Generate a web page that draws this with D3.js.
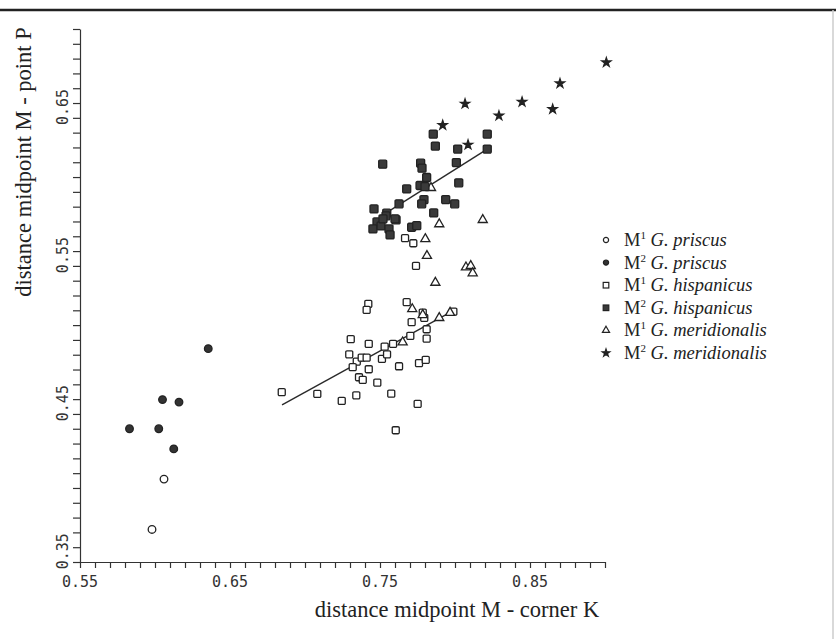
<!DOCTYPE html>
<html>
<head>
<meta charset="utf-8">
<script src="https://cdn.jsdelivr.net/npm/d3@7/dist/d3.min.js"></script>
<style>
    body { margin: 0; background: #fff; }
    .tick-label { font-family: "DejaVu Sans Mono", monospace; font-size: 15px; fill: #333; }
    .axis-title { font-family: "Liberation Serif", serif; font-size: 22.5px; fill: #222; }
    .legend-text { font-family: "Liberation Serif", serif; font-size: 18.5px; fill: #222; }
    .axis path, .axis line { stroke: #333; stroke-width: 1.2; }
</style>
</head>
<body>
<div class="chart"></div>
<script>
// values: [distance M - corner K, distance M - point P]
var priscusM1 = [[0.598, 0.362], [0.606, 0.396]];
var priscusM2 = [[0.583, 0.430], [0.6025, 0.430], [0.605, 0.4497], [0.616, 0.448],
    [0.6125, 0.4164], [0.6355, 0.4841]];
var hispanicusM1 = [[0.6845, 0.4547], [0.7082, 0.4535], [0.7245, 0.4488], [0.7342, 0.4526],
    [0.7305, 0.4905], [0.7295, 0.4803], [0.7345, 0.4753], [0.7318, 0.4716], [0.7378, 0.478],
    [0.7411, 0.478], [0.7425, 0.4873], [0.7422, 0.5143], [0.7411, 0.5103], [0.7425, 0.4702],
    [0.736, 0.4648], [0.7385, 0.463], [0.7482, 0.4611], [0.7513, 0.4772], [0.7531, 0.4855],
    [0.7547, 0.4803], [0.7587, 0.4873], [0.7575, 0.4537], [0.7627, 0.4722], [0.7605, 0.429],
    [0.7678, 0.5155], [0.7711, 0.502], [0.7702, 0.4927], [0.7751, 0.4468], [0.776, 0.4743],
    [0.7805, 0.4765], [0.7811, 0.4972], [0.7811, 0.4909], [0.7785, 0.5084], [0.7795, 0.5049],
    [0.7989, 0.5091], [0.7667, 0.5587], [0.7722, 0.5553], [0.774, 0.540]];
var hispanicusM2 = [[0.7518, 0.6087], [0.7855, 0.629], [0.7869, 0.6209], [0.7771, 0.6094],
    [0.778, 0.606], [0.8018, 0.6189], [0.8215, 0.629], [0.8215, 0.6189], [0.8009, 0.6098],
    [0.7811, 0.5997], [0.7767, 0.5943], [0.780, 0.5936], [0.7678, 0.592], [0.8025, 0.5961],
    [0.7627, 0.5819], [0.7793, 0.5847], [0.7778, 0.5819], [0.7938, 0.5848], [0.7998, 0.5819],
    [0.7858, 0.5758], [0.7545, 0.5756], [0.7607, 0.5711], [0.7711, 0.5661], [0.7745, 0.5672],
    [0.746, 0.5785], [0.748, 0.5697], [0.7453, 0.565], [0.7507, 0.567], [0.754, 0.5738],
    [0.756, 0.565], [0.7567, 0.5609], [0.760, 0.5718], [0.752, 0.5718]];
var meridionalisM1 = [[0.784, 0.5927], [0.7895, 0.5682], [0.8185, 0.5711], [0.7802, 0.5582],
    [0.7813, 0.5468], [0.8073, 0.5391], [0.8105, 0.540], [0.8118, 0.5351], [0.7869, 0.5287],
    [0.7715, 0.5109], [0.7785, 0.5069], [0.7895, 0.5049], [0.7651, 0.4884], [0.7967, 0.5084]];
var meridionalisM2 = [[0.9009, 0.6774], [0.870, 0.6632], [0.8447, 0.6508], [0.8651, 0.6459],
    [0.8293, 0.6414], [0.8067, 0.6495], [0.7918, 0.6351], [0.8087, 0.6218]];

// fitted lines as drawn in the figure (start, end)
var fitHispanicusM1 = [[0.6847, 0.4461], [0.7989, 0.5098]];
var fitHispanicusM2 = [[0.752, 0.5745], [0.8215, 0.6189]];

var xLabels = [0.55, 0.65, 0.75, 0.85];
var yLabels = [0.35, 0.45, 0.55, 0.65];
var legendLabels = [
    ["1", "priscus"], ["2", "priscus"], ["1", "hispanicus"],
    ["2", "hispanicus"], ["1", "meridionalis"], ["2", "meridionalis"]
];

(function() {
    var width = 836, height = 639;
    var svg = d3.select(".chart").append("svg")
        .attr("width", width)
        .attr("height", height);

    var x = d3.scaleLinear().domain([0.55, 0.90]).range([80, 605]);
    var y = d3.scaleLinear().domain([0.34, 0.70]).range([562, 29]);

    // page frame of the scan
    svg.append("line")
        .attr("x1", 0).attr("x2", width)
        .attr("y1", 10).attr("y2", 10)
        .style("stroke", "#222").style("stroke-width", 2.5);
    svg.append("line")
        .attr("x1", 833).attr("x2", 833)
        .attr("y1", 10).attr("y2", height)
        .style("stroke", "#ccc").style("stroke-width", 1.5);

    var xMinor = d3.range(55, 91).map(function(d) { return d / 100; });
    var yMinor = d3.range(34, 71).map(function(d) { return d / 100; });
    var fmt = d3.format(".2f");

    svg.append("g")
        .classed("axis", true)
        .attr("transform", "translate(0," + y(0.34) + ")")
        .call(d3.axisBottom(x).tickValues(xMinor).tickSize(6).tickSizeOuter(0).tickFormat(""));

    svg.append("g")
        .classed("axis", true)
        .attr("transform", "translate(" + x(0.55) + ",0)")
        .call(d3.axisLeft(y).tickValues(yMinor).tickSize(7).tickSizeOuter(0).tickFormat(""));

    svg.selectAll(".x-label")
        .data(xLabels)
        .enter()
        .append("text")
            .classed("tick-label", true)
            .attr("x", function(d) { return x(d); })
            .attr("y", 587)
            .attr("text-anchor", "middle")
            .text(fmt);

    svg.selectAll(".y-label")
        .data(yLabels)
        .enter()
        .append("text")
            .classed("tick-label", true)
            .attr("transform", function(d) { return "translate(68," + (y(d) + 4) + ") rotate(-90)"; })
            .attr("text-anchor", "middle")
            .text(fmt);

    svg.append("text")
        .classed("axis-title", true)
        .attr("x", 457)
        .attr("y", 617)
        .attr("text-anchor", "middle")
        .text("distance midpoint M - corner K");

    svg.append("text")
        .classed("axis-title", true)
        .attr("transform", "translate(31,162) rotate(-90)")
        .attr("text-anchor", "middle")
        .text("distance midpoint M - point P");

    var line = d3.line()
        .x(function(d) { return x(d[0]); })
        .y(function(d) { return y(d[1]); });

    [fitHispanicusM1, fitHispanicusM2].forEach(function(fit) {
        svg.append("path")
            .attr("d", line(fit))
            .style("fill", "none")
            .style("stroke", "#2a2a2a")
            .style("stroke-width", 1.4);
    });

    var styles = [
        {shape: "circle", size: 3.8, fill: "#fff"},
        {shape: "circle", size: 3.8, fill: "#333"},
        {shape: "square", size: 7, fill: "#fff"},
        {shape: "square", size: 8, fill: "#3a3a3a"},
        {shape: "triangle", size: 36, fill: "#fff"},
        {shape: "star", size: 26, fill: "#222"}
    ];

    function drawMarks(container, data, style) {
        var g = container.append("g");
        var sel = g.selectAll("g")
            .data(data)
            .enter()
            .append("g")
                .attr("transform", function(d) { return "translate(" + x(d[0]) + "," + y(d[1]) + ")"; });
        if (style.shape == "circle") {
            sel.append("circle").attr("r", style.size);
        } else if (style.shape == "square") {
            var s = style.size;
            sel.append("rect")
                .attr("x", -s / 2).attr("y", -s / 2)
                .attr("width", s).attr("height", s)
                .attr("rx", 1.2).attr("ry", 1.2);
        } else if (style.shape == "triangle") {
            sel.append("path").attr("d", d3.symbol().type(d3.symbolTriangle).size(style.size)());
        } else {
            sel.append("path").attr("d", d3.symbol().type(d3.symbolStar).size(style.size)());
        }
        sel.selectAll("*")
            .style("fill", style.fill)
            .style("stroke", "#222")
            .style("stroke-width", 1.3);
        return g;
    }

    var marks = svg.append("g").classed("marks", true);
    drawMarks(marks, hispanicusM1, styles[2]);
    drawMarks(marks, meridionalisM1, styles[4]);
    drawMarks(marks, hispanicusM2, styles[3]);
    drawMarks(marks, meridionalisM2, styles[5]);
    drawMarks(marks, priscusM1, styles[0]);
    drawMarks(marks, priscusM2, styles[1]);

    // legend
    var legend = svg.append("g").classed("legend", true);
    legendLabels.forEach(function(d, i) {
        var ly = 240 + i * 22.6;
        var st = styles[i];
        var item = legend.append("g").attr("transform", "translate(606," + ly + ")");
        var sym;
        if (st.shape == "circle") {
            sym = item.append("circle").attr("r", 2.6);
        } else if (st.shape == "square") {
            sym = item.append("rect").attr("x", -2.8).attr("y", -2.8).attr("width", 5.6).attr("height", 5.6);
        } else if (st.shape == "triangle") {
            sym = item.append("path").attr("d", d3.symbol().type(d3.symbolTriangle).size(22)());
        } else {
            sym = item.append("path").attr("d", d3.symbol().type(d3.symbolStar).size(18)());
        }
        sym.style("fill", st.fill).style("stroke", "#222").style("stroke-width", 1.2);

        var t = item.append("text")
            .classed("legend-text", true)
            .attr("x", 18)
            .attr("y", 6);
        t.append("tspan").text("M");
        t.append("tspan").attr("font-size", "11px").attr("dy", -7).text(d[0]);
        t.append("tspan").attr("dy", 7).text(" ");
        t.append("tspan").style("font-style", "italic").text("G. " + d[1]);
    });
})();
</script>
</body>
</html>
